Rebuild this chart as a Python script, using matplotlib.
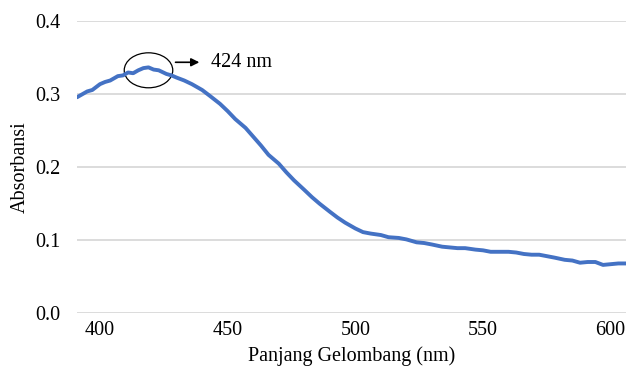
import numpy as np
import matplotlib
matplotlib.use("Agg")
import matplotlib.pyplot as plt
from matplotlib.patches import Ellipse

# Spektrum absorbansi
panjang_gelombang = [391, 393, 395, 397, 400, 402, 404, 407, 409, 411, 413, 415, 417, 419,
                     421, 423, 426, 428, 430, 433, 436, 440, 443, 447, 450, 453, 457, 460,
                     463, 466, 470, 473, 476, 480, 483, 486, 490, 493, 496, 500, 503, 506,
                     510, 513, 517, 520, 524, 527, 530, 534, 537, 540, 543, 547, 550, 553,
                     556, 560, 563, 566, 569, 572, 575, 578, 582, 585, 588, 591, 594, 597,
                     600, 603, 606]
absorbansi = [0.296, 0.300, 0.304, 0.306, 0.314, 0.317, 0.319, 0.325, 0.326, 0.330, 0.329,
              0.333, 0.336, 0.337, 0.334, 0.333, 0.328, 0.326, 0.323, 0.319, 0.314, 0.306,
              0.298, 0.287, 0.277, 0.266, 0.254, 0.242, 0.230, 0.217, 0.205, 0.193, 0.182,
              0.169, 0.159, 0.150, 0.139, 0.131, 0.124, 0.116, 0.111, 0.109, 0.107, 0.104,
              0.103, 0.101, 0.097, 0.096, 0.094, 0.091, 0.090, 0.089, 0.089, 0.087, 0.086,
              0.084, 0.084, 0.084, 0.083, 0.081, 0.080, 0.080, 0.078, 0.076, 0.073, 0.072,
              0.069, 0.070, 0.070, 0.066, 0.067, 0.068, 0.068]
label_puncak = "424 nm"
xticks = [400, 450, 500, 550, 600]
yticks = [0.0, 0.1, 0.2, 0.3, 0.4]

plt.rcParams['font.family'] = ['Liberation Serif', 'DejaVu Serif']

fig = plt.figure(figsize=(6.26, 3.70), dpi=100)
ax = fig.add_axes([0.123, 0.154, 0.877, 0.788])

ax.plot(panjang_gelombang, absorbansi, color='#4472C4', lw=2.8, solid_capstyle='round')

# tanda puncak
i = int(np.argmax(absorbansi))
px, py = panjang_gelombang[i], absorbansi[i]
ax.add_patch(Ellipse((px, py - 0.004), 19, 0.048, fill=False, ec='black', lw=0.9))
ax.annotate("", xy=(px + 21, py + 0.007), xytext=(px + 9.5, py + 0.007),
            arrowprops=dict(arrowstyle='-|>', color='black', lw=1.2, mutation_scale=12))
ax.text(px + 24.5, py + 0.007, label_puncak, fontsize=14.5, va='center', ha='left')

ax.set_xlim(391, 606)
ax.set_ylim(0, 0.4)
ax.set_xticks(xticks)
ax.set_yticks(yticks)
ax.set_yticklabels([f"{v:.1f}" for v in yticks])
ax.tick_params(length=0, labelsize=14.5)
ax.tick_params(axis='y', pad=12)
ax.tick_params(axis='x', pad=6)
ax.grid(axis='y', color='#d9d9d9', lw=1.3)
ax.set_axisbelow(True)
for s in ax.spines.values():
    s.set_visible(False)

ax.set_xlabel("Panjang Gelombang (nm)", fontsize=14.5, labelpad=4)
ax.set_ylabel("Absorbansi", fontsize=14.5, labelpad=4)

fig.savefig("out.png", dpi=100)
